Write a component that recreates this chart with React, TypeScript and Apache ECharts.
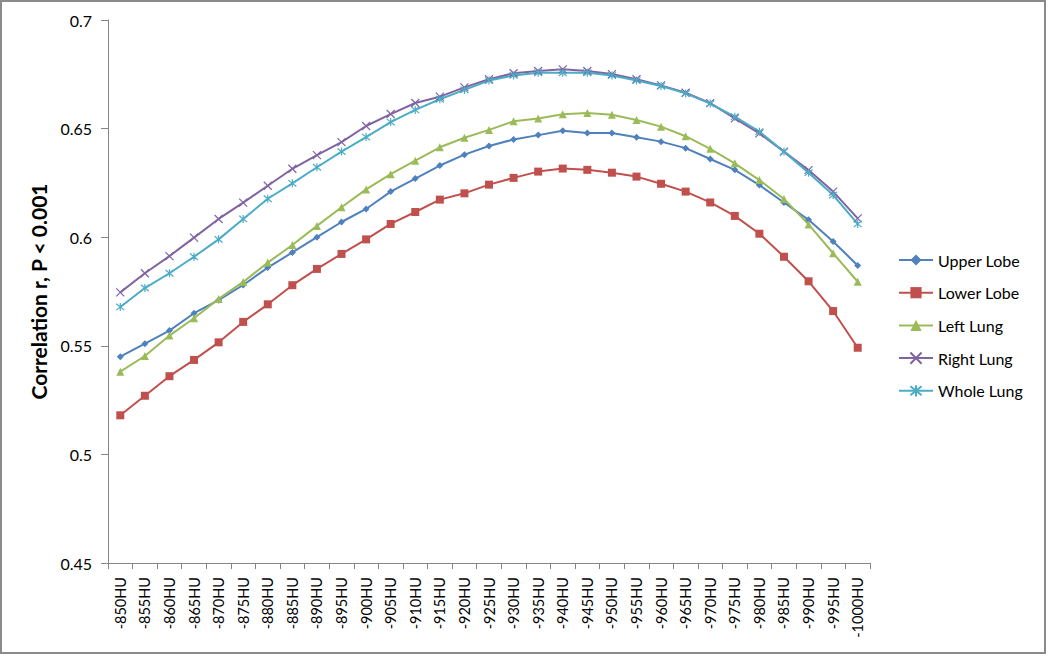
import React, { useEffect, useRef } from "react";
import * as echarts from "echarts";

const categories = [
  "-850HU", "-855HU", "-860HU", "-865HU", "-870HU", "-875HU", "-880HU", "-885HU",
  "-890HU", "-895HU", "-900HU", "-905HU", "-910HU", "-915HU", "-920HU", "-925HU",
  "-930HU", "-935HU", "-940HU", "-945HU", "-950HU", "-955HU", "-960HU", "-965HU",
  "-970HU", "-975HU", "-980HU", "-985HU", "-990HU", "-995HU", "-1000HU",
];

const upperLobe = [
  0.545, 0.551, 0.557, 0.565, 0.571, 0.578, 0.586, 0.593, 0.6, 0.607, 0.613, 0.621,
  0.627, 0.633, 0.638, 0.642, 0.645, 0.647, 0.649, 0.648, 0.648, 0.646, 0.644, 0.641,
  0.636, 0.631, 0.624, 0.616, 0.608, 0.598, 0.587,
];
const lowerLobe = [
  0.518, 0.527, 0.536, 0.5435, 0.5516, 0.561, 0.5691, 0.5779, 0.5854, 0.5923, 0.599,
  0.6061, 0.6116, 0.6173, 0.6202, 0.6242, 0.6273, 0.6302, 0.6316, 0.631, 0.6297,
  0.6279, 0.6246, 0.621, 0.616, 0.6098, 0.6016, 0.591, 0.5797, 0.566, 0.5491,
];
const leftLung = [
  0.5381, 0.5453, 0.5547, 0.5627, 0.5716, 0.5794, 0.5883, 0.5964, 0.6052, 0.6138,
  0.622, 0.629, 0.6352, 0.6414, 0.6458, 0.6494, 0.6534, 0.6546, 0.6566, 0.6572,
  0.6564, 0.654, 0.6509, 0.6465, 0.6407, 0.634, 0.6263, 0.6176, 0.6059, 0.5926, 0.5795,
];
const rightLung = [
  0.5746, 0.5834, 0.5913, 0.5998, 0.6084, 0.6159, 0.6237, 0.6315, 0.6378, 0.6438,
  0.6512, 0.6567, 0.6618, 0.6647, 0.669, 0.6727, 0.6755, 0.6765, 0.6773, 0.6765,
  0.6751, 0.6727, 0.6699, 0.6665, 0.6617, 0.6547, 0.6478, 0.6394, 0.6309, 0.621, 0.6087,
];
const wholeLung = [
  0.5679, 0.5766, 0.5834, 0.591, 0.599, 0.6084, 0.6177, 0.6248, 0.6322, 0.6394,
  0.6461, 0.653, 0.6586, 0.6635, 0.6678, 0.6721, 0.6745, 0.6757, 0.6757, 0.6757,
  0.6744, 0.6721, 0.6696, 0.6662, 0.6615, 0.6555, 0.6486, 0.6394, 0.6297, 0.6194, 0.6061,
];

const seriesNames = ["Upper Lobe", "Lower Lobe", "Left Lung", "Right Lung", "Whole Lung"];
const seriesColors = ["#4F81BD", "#C0504D", "#9BBB59", "#8064A2", "#4BACC6"];

const FONT = "Lato, 'Liberation Sans', sans-serif";

export default function App() {
  const ref = useRef<HTMLDivElement>(null);

  useEffect(() => {
    if (!ref.current) return;
    const chart = echarts.init(ref.current, null, { renderer: "svg" });
    const datasets = [upperLobe, lowerLobe, leftLung, rightLung, wholeLung];
    const symbols = [
      "diamond",
      "rect",
      "triangle",
      "path://M0,0 L10,10 M10,0 L0,10",
      "path://M5,0 L5,10 M1,1 L9,9 M9,1 L1,9",
    ];
    const sizes = [7, 8, 8, 8, 8];
    const series = datasets.map((d, i) => {
      const strokeOnly = i >= 3;
      return {
        name: seriesNames[i],
        type: "line",
        data: d,
        symbol: symbols[i],
        symbolSize: sizes[i],
        showSymbol: true,
        lineStyle: { color: seriesColors[i], width: 2 },
        itemStyle: strokeOnly
          ? { color: "rgba(0,0,0,0)", borderColor: seriesColors[i], borderWidth: 1.2 }
          : { color: seriesColors[i], borderWidth: 0 },
        emphasis: { disabled: true },
      };
    });

    chart.setOption({
      animation: false,
      color: seriesColors,
      textStyle: { fontFamily: FONT },
      grid: { left: 108, right: 180, top: 20, bottom: 96, containLabel: false },
      legend: {
        orient: "vertical",
        left: 893,
        top: 247,
        itemWidth: 34,
        itemHeight: 14,
        itemGap: 16.7,
        data: seriesNames,
        textStyle: { fontFamily: FONT, fontSize: 16, color: "#000" },
      },
      xAxis: {
        type: "category",
        data: categories,
        boundaryGap: true,
        axisLine: { lineStyle: { color: "#868686", width: 1 } },
        axisTick: { show: true, length: 6, interval: 0, lineStyle: { color: "#868686" } },
        axisLabel: {
          rotate: 90,
          interval: 0,
          margin: 14,
          fontSize: 14.5,
          color: "#000",
          fontFamily: FONT,
        },
        splitLine: { show: false },
      },
      yAxis: {
        type: "value",
        min: 0.45,
        max: 0.7,
        interval: 0.05,
        name: "Correlation r, P < 0.001",
        nameLocation: "middle",
        nameGap: 56,
        nameTextStyle: { fontSize: 21, fontWeight: "bold", color: "#000", fontFamily: FONT },
        axisLine: { show: true, lineStyle: { color: "#868686", width: 1 } },
        axisTick: { show: true, length: 7, lineStyle: { color: "#868686" } },
        axisLabel: {
          margin: 16,
          fontSize: 16,
          color: "#000",
          fontFamily: FONT,
          formatter: (v: number) => String(parseFloat(v.toFixed(2))),
        },
        splitLine: { show: false },
      },
      series,
    });
    return () => chart.dispose();
  }, []);

  return (
    <div style={{ position: "fixed", left: 0, top: 0, width: 1050, height: 659, background: "#fff" }}>
      <div
        style={{
          position: "absolute",
          left: 0,
          top: 0,
          width: 1042,
          height: 650,
          border: "2px solid #8a8a8a",
        }}
      />
      <div ref={ref} style={{ position: "absolute", left: 0, top: 0, width: 1050, height: 659 }} />
    </div>
  );
}
